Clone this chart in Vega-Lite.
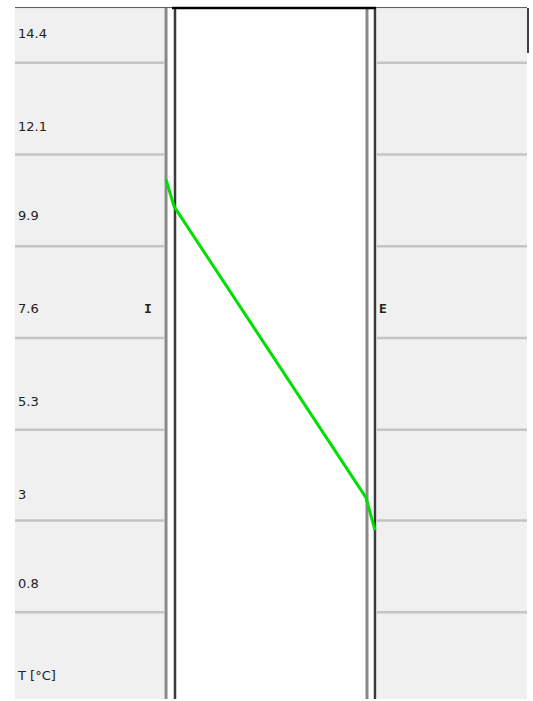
{
  "$schema": "https://vega.github.io/schema/vega-lite/v6.json",
  "width": 533,
  "height": 701,
  "autosize": {"type": "fit", "contains": "padding"},
  "padding": 0,
  "background": "white",
  "config": {"view": {"stroke": null}},
  "datasets": {
    "panels": [{"side": "I", "x0": 15, "x1": 164}, {"side": "E", "x0": 377, "x1": 527}],
    "grid": [{"T": 13.686}, {"T": 11.42}, {"T": 9.154}, {"T": 6.888}, {"T": 4.622}, {"T": 2.38}, {"T": 0.114}],
    "labels": [
      {"T": 14.4, "label": "14.4"},
      {"T": 12.1, "label": "12.1"},
      {"T": 9.9, "label": "9.9"},
      {"T": 7.6, "label": "7.6"},
      {"T": 5.3, "label": "5.3"},
      {"T": 3.0, "label": "3"},
      {"T": 0.8, "label": "0.8"},
      {"T": -1.46, "label": "T [°C]"}
    ],
    "sides": [{"pos": 148, "T": 7.6, "label": "I"}, {"pos": 383, "T": 7.6, "label": "E"}],
    "lightEdges": [{"pos": 166}, {"pos": 367}],
    "darkEdges": [{"pos": 175}, {"pos": 375}],
    "profile": [
      {"pos": 166, "T": 10.804},
      {"pos": 174, "T": 10.139},
      {"pos": 366, "T": 2.947},
      {"pos": 375, "T": 2.134}
    ]
  },
  "layer": [
    {
      "data": {"name": "panels"},
      "mark": {"type": "rect", "color": "#f0f0f0"},
      "encoding": {
        "x": {"field": "x0", "type": "quantitative", "scale": {"domain": [0, 533], "nice": false, "zero": false}, "axis": null},
        "x2": {"field": "x1"},
        "y": {"datum": 15.04, "type": "quantitative", "scale": {"domain": [-2.029, 15.237], "nice": false, "zero": false}, "axis": null},
        "y2": {"datum": -2.029}
      }
    },
    {
      "data": {"name": "grid"},
      "mark": {"type": "rule", "color": "#c4c4c4", "strokeWidth": 2.5},
      "encoding": {
        "y": {"field": "T", "type": "quantitative"},
        "x": {"datum": 15, "type": "quantitative"},
        "x2": {"datum": 164}
      }
    },
    {
      "data": {"name": "grid"},
      "mark": {"type": "rule", "color": "#c4c4c4", "strokeWidth": 2.5},
      "encoding": {
        "y": {"field": "T", "type": "quantitative"},
        "x": {"datum": 377, "type": "quantitative"},
        "x2": {"datum": 527}
      }
    },
    {
      "data": {"name": "lightEdges"},
      "mark": {"type": "rule", "color": "#888888", "strokeWidth": 3},
      "encoding": {
        "x": {"field": "pos", "type": "quantitative"},
        "y": {"datum": 15.04, "type": "quantitative"},
        "y2": {"datum": -2.029}
      }
    },
    {
      "data": {"name": "darkEdges"},
      "mark": {"type": "rule", "color": "#3a3a3a", "strokeWidth": 2.5},
      "encoding": {
        "x": {"field": "pos", "type": "quantitative"},
        "y": {"datum": 15.04, "type": "quantitative"},
        "y2": {"datum": -2.029}
      }
    },
    {
      "data": {"values": [{"a": 1}]},
      "mark": {"type": "rule", "color": "#555555", "strokeWidth": 1},
      "encoding": {
        "x": {"datum": 15, "type": "quantitative"},
        "x2": {"datum": 527},
        "y": {"datum": 15.05, "type": "quantitative"}
      }
    },
    {
      "data": {"values": [{"a": 1}]},
      "mark": {"type": "rule", "color": "#000000", "strokeWidth": 2.5},
      "encoding": {
        "x": {"datum": 172, "type": "quantitative"},
        "x2": {"datum": 376},
        "y": {"datum": 15.04, "type": "quantitative"}
      }
    },
    {
      "data": {"values": [{"a": 1}]},
      "mark": {"type": "rule", "color": "#000000", "strokeWidth": 1.5},
      "encoding": {
        "x": {"datum": 528, "type": "quantitative"},
        "y": {"datum": 15.04, "type": "quantitative"},
        "y2": {"datum": 13.93}
      }
    },
    {
      "data": {"name": "profile"},
      "mark": {"type": "line", "color": "#00e000", "strokeWidth": 3},
      "encoding": {
        "x": {"field": "pos", "type": "quantitative"},
        "y": {"field": "T", "type": "quantitative"}
      }
    },
    {
      "data": {"name": "labels"},
      "mark": {"type": "text", "align": "left", "baseline": "middle", "font": "DejaVu Sans", "fontSize": 13, "color": "#222222"},
      "encoding": {
        "x": {"datum": 18, "type": "quantitative"},
        "y": {"field": "T", "type": "quantitative"},
        "text": {"field": "label"}
      }
    },
    {
      "data": {"name": "sides"},
      "mark": {"type": "text", "align": "center", "baseline": "middle", "font": "DejaVu Sans Mono", "fontSize": 13, "fontWeight": "bold", "color": "#222222"},
      "encoding": {
        "x": {"field": "pos", "type": "quantitative"},
        "y": {"field": "T", "type": "quantitative"},
        "text": {"field": "label"}
      }
    }
  ]
}
